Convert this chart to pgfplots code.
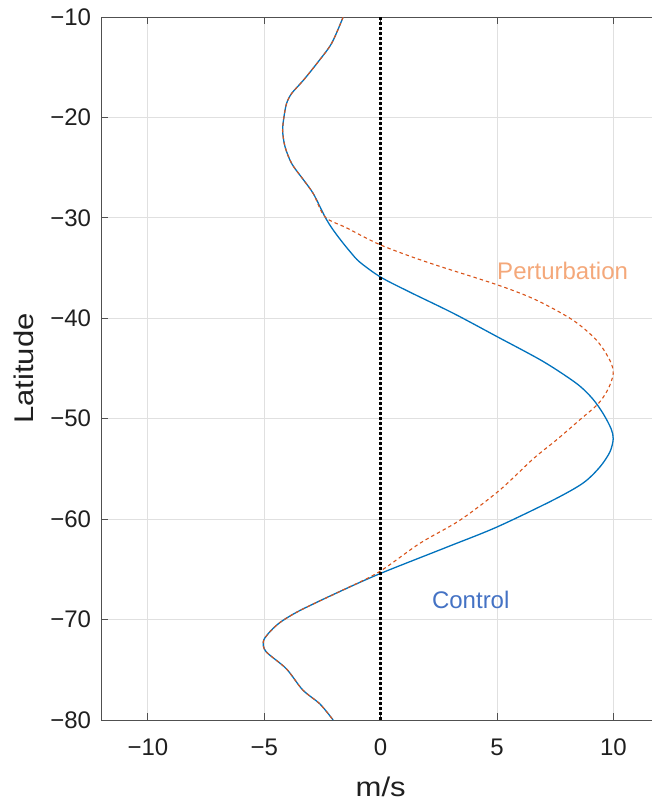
\documentclass[border=0pt]{standalone}
\usepackage{pgfplots}
\usepackage{pgfplotstable}
\pgfplotsset{compat=1.18}
\usepackage{fontspec}
\setmainfont{Liberation Sans}
\newfontfamily\labelfont{Liberation Sans}[FakeStretch=1.15]

\definecolor{ctrlblue}{RGB}{0,114,189}
\definecolor{pertorange}{RGB}{217,83,25}
\definecolor{ctrltext}{RGB}{68,114,196}
\definecolor{perttext}{RGB}{244,168,122}
\definecolor{gridgray}{RGB}{224,224,224}
\definecolor{axisgray}{RGB}{80,80,80}

% zonal wind profiles: latitude (deg) and wind speed (m/s)
\pgfplotstableread{
lat u
-10.0 -1.61
-12.6 -2.10
-14.45 -2.68
-16.3 -3.32
-17.6 -3.82
-18.6 -4.04
-19.9 -4.15
-21.3 -4.21
-22.9 -4.11
-24.6 -3.82
-26.2 -3.32
-27.6 -2.89
-29.9 -2.39
-31.0 -2.10
-32.2 -1.72
-33.4 -1.30
-34.4 -0.90
-35.9 0.00
-37.4 1.26
-39.5 3.12
-41.8 4.98
-44.3 6.98
-46.5 8.42
-48.0 9.10
-49.5 9.56
-51.0 9.90
-52.0 9.99
-53.3 9.85
-54.8 9.42
-56.4 8.70
-58.1 7.41
-60.8 4.98
-62.8 2.83
-65.4 0.00
-67.2 -1.75
-69.1 -3.47
-70.3 -4.33
-71.4 -4.83
-72.2 -5.04
-73.2 -4.92
-74.9 -4.05
-77.0 -3.35
-78.4 -2.61
-80.0 -2.04
}\control

\pgfplotstableread{
lat u
-10.0 -1.61
-12.6 -2.10
-14.45 -2.68
-16.3 -3.32
-17.6 -3.82
-18.6 -4.04
-19.9 -4.15
-21.3 -4.21
-22.9 -4.11
-24.6 -3.82
-26.2 -3.32
-27.6 -2.89
-29.9 -2.39
-31.0 -1.46
-32.7 0.00
-34.4 1.98
-36.7 5.05
-38.2 6.70
-40.2 8.27
-42.2 9.28
-44.2 9.85
-45.5 9.99
-47.0 9.78
-48.5 9.35
-50.1 8.56
-52.1 7.56
-54.0 6.55
-57.1 5.12
-60.1 3.41
-62.4 1.69
-65.3 -0.10
-67.2 -1.75
-69.1 -3.47
-70.3 -4.33
-71.4 -4.83
-72.2 -5.04
-73.2 -4.92
-74.9 -4.05
-77.0 -3.35
-78.4 -2.61
-80.0 -2.04
}\perturb

\begin{document}
\begin{tikzpicture}
\begin{axis}[
  scale only axis,
  width=558.7pt, height=703pt,
  xmin=-12, xmax=12, ymin=-80, ymax=-10,
  xtick={-10,-5,0,5,10},
  xticklabels={−10,−5,0,5,10},
  ytick={-80,-70,-60,-50,-40,-30,-20,-10},
  yticklabels={−80,−70,−60,−50,−40,−30,−20,−10},
  tick align=inside,
  major tick length=7pt,
  every tick/.style={axisgray, line width=1pt},
  axis line style={axisgray, line width=1pt},
  grid=major,
  major grid style={gridgray, line width=1pt},
  tick label style={font=\fontsize{24}{28}\selectfont, text=black!88},
  yticklabel style={inner sep=0pt, xshift=-10pt},
  xticklabel style={inner sep=0pt, yshift=-19pt},
  label style={font=\labelfont\fontsize{27}{32}\selectfont, text=black!88},
  xlabel={m/s},
  ylabel={Latitude},
  xlabel style={at={(axis description cs:0.5,-0.0811)}, anchor=north, inner sep=0pt},
  ylabel style={at={(axis description cs:-0.1212,0.5)}, rotate=0, anchor=south, inner sep=0pt},
  clip=true,
]
\coordinate (sw) at (rel axis cs:0,0);
\addplot[ctrlblue, line width=1.3pt, smooth, tension=0.5] table[x=u, y=lat] {\control};
\addplot[pertorange, line width=1.1pt, dash pattern=on 3.5pt off 3pt, smooth, tension=0.5] table[x=u, y=lat] {\perturb};
\addplot[black, line width=3.2pt, dash pattern=on 3pt off 2pt] coordinates {(0,-10) (0,-80)};
\node[anchor=west, inner sep=0pt, text=perttext, font=\fontsize{24}{28}\selectfont] at (axis cs:5,-35.3) {Perturbation};
\node[anchor=west, inner sep=0pt, text=ctrltext, font=\fontsize{24}{28}\selectfont] at (axis cs:2.2,-68) {Control};
\end{axis}
\pgfresetboundingbox
\path (sw) ++(-101.3pt,-84pt) rectangle ++(652pt,804pt);
\end{tikzpicture}
\end{document}
